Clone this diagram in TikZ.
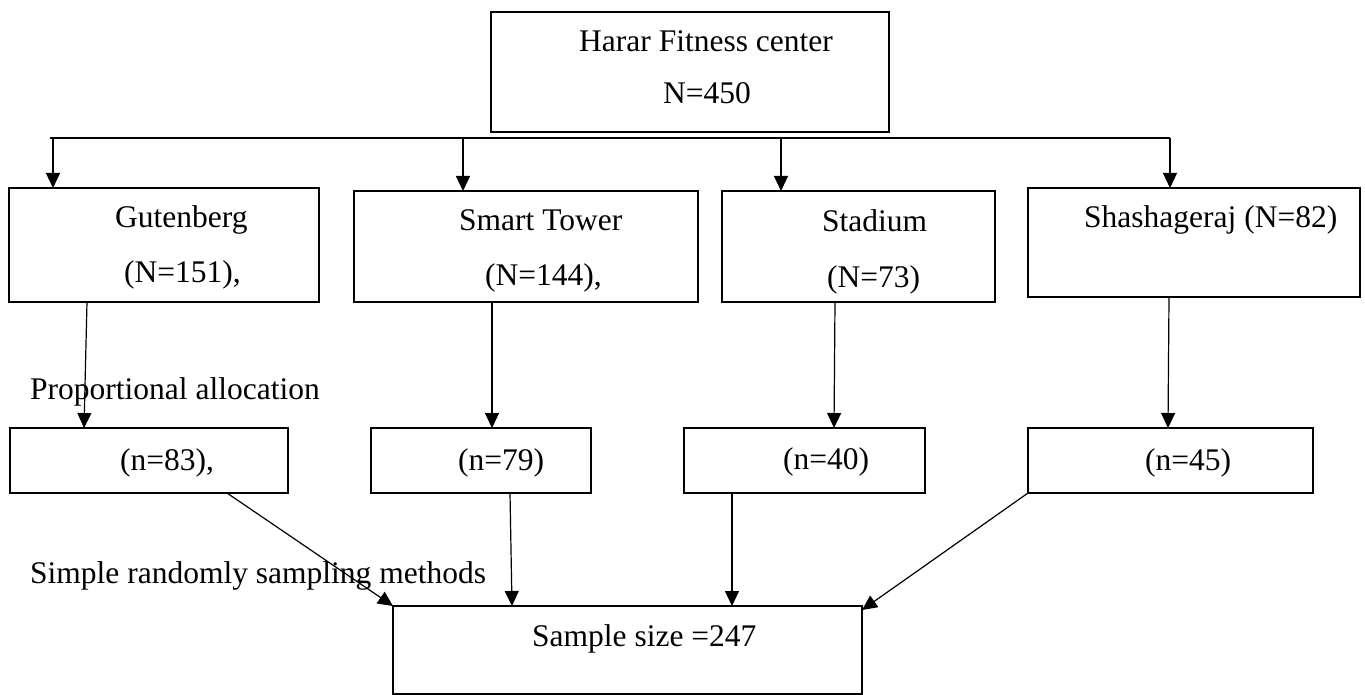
\documentclass[tikz,border=0pt]{standalone}
\usepackage{fontspec}
\setmainfont{Liberation Serif}
\usetikzlibrary{arrows.meta}
\begin{document}
\begin{tikzpicture}[x=1pt,y=-1pt,
  box/.style={draw, line width=2.5pt, anchor=north west, inner sep=0pt, outer sep=0pt},
  lbl/.style={anchor=base west, inner sep=0pt, font=\fontsize{31.5}{38}\selectfont},
  conn/.style={line width=1.2pt, -{Triangle[length=15pt,width=14pt]}},
  barline/.style={line width=1.2pt}]
\fill[white] (0,0) rectangle (1365,695);
\useasboundingbox (0,0) rectangle (1365,695);

% boxes
\node[box, minimum width=398pt, minimum height=120pt] (top) at (491,12) {};
\node[box, minimum width=310pt, minimum height=114pt] (g)  at (9,188) {};
\node[box, minimum width=344pt, minimum height=111pt] (st) at (354,191) {};
\node[box, minimum width=273pt, minimum height=111pt] (sd) at (722,191) {};
\node[box, minimum width=332pt, minimum height=109pt] (sh) at (1028,188) {};
\node[box, minimum width=278pt, minimum height=65pt] (s1) at (10,428) {};
\node[box, minimum width=220pt, minimum height=65pt] (s2) at (371,428) {};
\node[box, minimum width=241pt, minimum height=65pt] (s3) at (684,428) {};
\node[box, minimum width=285pt, minimum height=65pt] (s4) at (1028,428) {};
\node[box, minimum width=469pt, minimum height=88pt] (bot) at (393,606) {};

% texts
\node[lbl] (t1) at (579,52) {Harar Fitness center};
\node[lbl] (t2) at (663,104) {N=450};
\node[lbl] (g1) at (115,228) {Gutenberg};
\node[lbl] (g2) at (124,282) {(N=151),};
\node[lbl] (st1) at (459,230) {Smart Tower};
\node[lbl] (st2) at (485,285) {(N=144),};
\node[lbl] (sd1) at (822,231) {Stadium};
\node[lbl] (sd2) at (827,287) {(N=73)};
\node[lbl] (sh1) at (1084,227) {Shashageraj (N=82)};
\node[lbl] (pa) at (30,399) {Proportional allocation};
\node[lbl] (n1) at (120,470) {(n=83),};
\node[lbl] (n2) at (458,470) {(n=79)};
\node[lbl] (n3) at (783,469) {(n=40)};
\node[lbl] (n4) at (1145,470) {(n=45)};
\node[lbl] (srs) at (30,583) {Simple randomly sampling methods};
\node[lbl] (ss) at (532,646) {Sample size =247};

% distribution bar
\coordinate (barL) at (50,138);
\coordinate (barR) at (1170,138);
\draw[barline] (barL) -- (barR);
\coordinate (a1) at (53,138);
\coordinate (a2) at (463,138);
\coordinate (a3) at (781,138);
\coordinate (a4) at (1170,138);
\draw[conn] (a1) -- (a1 |- g.north);
\draw[conn] (a2) -- (a2 |- st.north);
\draw[conn] (a3) -- (a3 |- sd.north);
\draw[conn] (a4) -- (a4 |- sh.north);

% strata to allocations
\draw[conn] ([xshift=78pt]g.south west) -- ([xshift=74pt]s1.north west);
\draw[conn] ([xshift=138pt]st.south west) -- ([xshift=121pt]s2.north west);
\draw[conn] ([xshift=113pt]sd.south west) -- ([xshift=150pt]s3.north west);
\draw[conn] ([xshift=141pt]sh.south west) -- ([xshift=140pt]s4.north west);

% allocations to sample
\draw[conn] ([xshift=217pt]s1.south west) -- (bot.north west);
\draw[conn] ([xshift=139pt]s2.south west) -- ([xshift=119pt]bot.north west);
\draw[conn] ([xshift=48pt]s3.south west) -- ([xshift=339pt]bot.north west);
\draw[conn] (s4.south west) -- ([yshift=-4pt]bot.north east);
\end{tikzpicture}
\end{document}
